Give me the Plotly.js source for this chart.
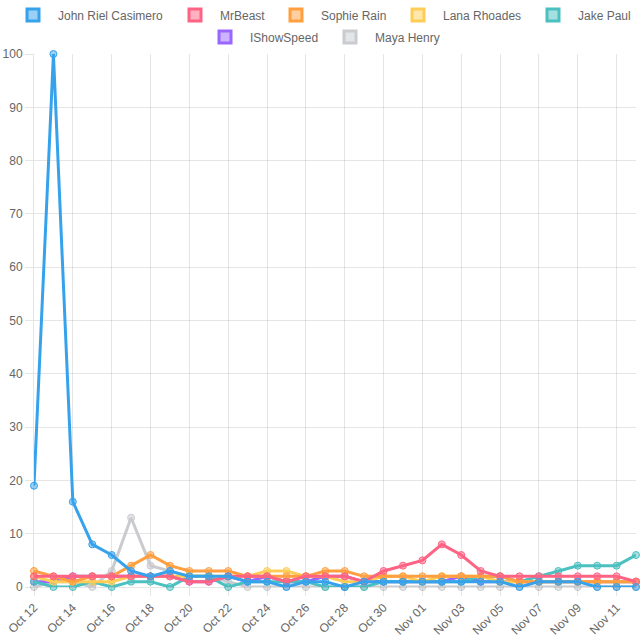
<!DOCTYPE html>
<html>
<head>
<meta charset="utf-8">
<script src="https://cdn.plot.ly/plotly-3.0.1.min.js"></script>
<style>
    html, body { margin: 0; padding: 0; background: #fff; }
    #chart { width: 640px; height: 640px; }
</style>
</head>
<body>
<div id="chart"></div>
<script>
const dates = [
    "Oct 12", "Oct 13", "Oct 14", "Oct 15", "Oct 16", "Oct 17", "Oct 18", "Oct 19",
    "Oct 20", "Oct 21", "Oct 22", "Oct 23", "Oct 24", "Oct 25", "Oct 26", "Oct 27",
    "Oct 28", "Oct 29", "Oct 30", "Oct 31", "Nov 01", "Nov 02", "Nov 03", "Nov 04",
    "Nov 05", "Nov 06", "Nov 07", "Nov 08", "Nov 09", "Nov 10", "Nov 11", "Nov 12"
];
const tickLabels = dates.filter((d, i) => i % 2 === 0);

const seriesNames = ["John Riel Casimero", "MrBeast", "Sophie Rain", "Lana Rhoades", "Jake Paul", "IShowSpeed", "Maya Henry"];

const johnRiel = [19, 100, 16, 8, 6, 3, 2, 3, 2, 2, 2, 1, 1, 0, 1, 1, 0, 1, 1, 1, 1, 1, 1, 1, 1, 0, 1, 1, 1, 0, 0, 0];
const mrBeast = [2, 2, 2, 2, 2, 2, 2, 2, 1, 1, 2, 2, 2, 1, 2, 2, 2, 1, 3, 4, 5, 8, 6, 3, 2, 2, 2, 2, 2, 2, 2, 1];
const sophieRain = [3, 2, 1, 2, 2, 4, 6, 4, 3, 3, 3, 2, 2, 2, 2, 3, 3, 2, 2, 2, 2, 2, 2, 2, 2, 1, 1, 1, 1, 1, 1, 1];
const lanaRhoades = [2, 1, 1, 1, 1, 2, 2, 2, 2, 2, 2, 2, 3, 3, 2, 2, 1, 1, 2, 2, 1, 2, 2, 2, 1, 1, 1, 1, 1, 1, 1, 1];
const jakePaul = [1, 0, 0, 1, 0, 1, 1, 0, 2, 2, 0, 1, 1, 1, 1, 0, 0, 0, 1, 1, 1, 1, 1, 2, 2, 1, 2, 3, 4, 4, 4, 6];
const iShowSpeed = [1, 1, 2, 2, 2, 2, 2, 2, 1, 1, 2, 1, 2, 1, 1, 2, 2, 1, 1, 1, 1, 1, 2, 1, 1, 1, 1, 1, 1, 1, 1, 1];
const mayaHenry = [0, 1, 1, 0, 3, 13, 4, 3, 2, 2, 1, 0, 0, 0, 0, 0, 0, 0, 0, 0, 0, 0, 0, 0, 0, 0, 0, 0, 0, 0, 0, 0];

const seriesValues = [johnRiel, mrBeast, sophieRain, lanaRhoades, jakePaul, iShowSpeed, mayaHenry];
const colors = ["54,162,235", "255,99,132", "255,159,64", "255,205,86", "75,192,192", "153,102,255", "201,203,207"];

// legend entry placement (px from left, px from top), Chart.js-like two centered rows
const legendLeft = [8, 170, 271, 393, 528, 200, 325];
const legendTop = [15, 15, 15, 15, 15, 37, 37];

const traces = [];

// lines, drawn last-to-first so the first series sits on top
for (let i = seriesNames.length - 1; i >= 0; i--) {
    traces.push({
        x: dates,
        y: seriesValues[i],
        type: "scatter",
        mode: "lines+markers",
        name: seriesNames[i],
        showlegend: false,
        legendgroup: seriesNames[i],
        cliponaxis: false,
        line: { color: `rgb(${colors[i]})`, width: 3 },
        marker: {
            size: 7,
            color: `rgba(${colors[i]},0.5)`,
            line: { color: `rgb(${colors[i]})`, width: 1 },
        },
        hoverinfo: "x+y+name",
    });
}

const layout = {
    width: 640,
    height: 640,
    margin: { l: 34, r: 4, t: 54, b: 53, autoexpand: false },
    paper_bgcolor: "#fff",
    plot_bgcolor: "#fff",
    font: { family: "Liberation Sans, Arial, sans-serif", size: 12, color: "#666" },
    showlegend: true,
    xaxis: {
        type: "category",
        range: [0, dates.length - 1],
        tickmode: "array",
        tickvals: tickLabels,
        ticktext: tickLabels,
        tickangle: -45,
        showgrid: true,
        gridcolor: "rgba(0,0,0,0.1)",
        ticks: "outside",
        ticklen: 8,
        tickcolor: "rgba(0,0,0,0.1)",
        showline: true,
        linecolor: "rgba(0,0,0,0.1)",
        zeroline: false,
        fixedrange: true,
    },
    yaxis: {
        range: [0, 100],
        dtick: 10,
        showgrid: true,
        gridcolor: "rgba(0,0,0,0.1)",
        ticks: "outside",
        ticklen: 8,
        tickcolor: "rgba(0,0,0,0.1)",
        showline: true,
        linecolor: "rgba(0,0,0,0.1)",
        zeroline: false,
        fixedrange: true,
    },
};

// one legend per entry so each box sits where Chart.js put it
for (let i = 0; i < seriesNames.length; i++) {
    const legendId = i === 0 ? "legend" : "legend" + (i + 1);
    traces.push({
        x: [null],
        y: [null],
        type: "bar",
        name: seriesNames[i],
        legendgroup: seriesNames[i],
        legend: legendId,
        marker: {
            color: `rgba(${colors[i]},0.5)`,
            line: { color: `rgb(${colors[i]})`, width: 3 },
        },
    });
    layout[legendId] = {
        orientation: "h",
        xref: "container",
        yref: "container",
        x: legendLeft[i] / 640,
        y: 1 - legendTop[i] / 640,
        xanchor: "left",
        yanchor: "middle",
        itemwidth: 40,
        font: { size: 12, color: "#666" },
        itemclick: false,
        bgcolor: "rgba(0,0,0,0)",
    };
}

Plotly.newPlot("chart", traces, layout, { displayModeBar: false });
</script>
</body>
</html>
